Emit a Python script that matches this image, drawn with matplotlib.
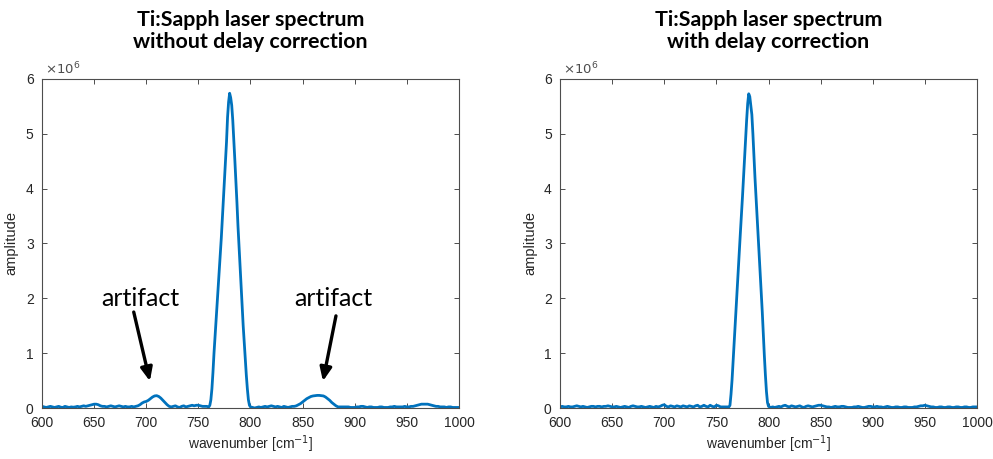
import numpy as np
import matplotlib
matplotlib.use("Agg")
import matplotlib.pyplot as plt
from matplotlib.ticker import FuncFormatter

# ---- data (amplitudes in units of 1e6) ----
SCALE = 1e6

# wavenumber sampling: coarse on the wings, fine across the main line
wn_low = np.arange(600, 761, 2)
wn_peak = np.arange(761, 801, 1)
wn_high = np.arange(802, 1001, 2)

# spectrum without delay correction
amp_raw_low = [
    0.03, 0.02, 0.01, 0.02, 0.03, 0.02, 0.01, 0.02, 0.03, 0.015,
    0.01, 0.03, 0.02, 0.01, 0.02, 0.015, 0.02, 0.03, 0.02, 0.03,
    0.04, 0.03, 0.04, 0.05, 0.06, 0.07, 0.07, 0.06, 0.04, 0.03,
    0.03, 0.02, 0.03, 0.04, 0.03, 0.02, 0.03, 0.04, 0.03, 0.02,
    0.03, 0.02, 0.02, 0.03, 0.02, 0.03, 0.04, 0.06, 0.09, 0.11,
    0.12, 0.14, 0.17, 0.20, 0.22, 0.225, 0.21, 0.18, 0.14, 0.10,
    0.06, 0.03, 0.02, 0.03, 0.04, 0.02, 0.01, 0.03, 0.04, 0.02,
    0.03, 0.04, 0.05, 0.04, 0.05, 0.05, 0.04, 0.03, 0.03, 0.03,
    0.02,
]
amp_raw_peak = [
    0.05, 0.15, 0.35, 0.65, 1.00, 1.30, 1.60, 1.90, 2.20, 2.50,
    2.80, 3.10, 3.45, 3.80, 4.15, 4.50, 4.85, 5.30, 5.58, 5.74,
    5.66, 5.52, 5.25, 4.90, 4.52, 4.15, 3.75, 3.32, 2.95, 2.60,
    2.20, 1.85, 1.50, 1.20, 0.90, 0.60, 0.35, 0.15, 0.05, 0.02,
]
amp_raw_high = [
    0.01, 0.00, 0.01, 0.02, 0.01, 0.02, 0.03, 0.02, 0.03, 0.04,
    0.03, 0.02, 0.03, 0.02, 0.01, 0.03, 0.02, 0.01, 0.02, 0.03,
    0.03, 0.04, 0.06, 0.08, 0.11, 0.14, 0.17, 0.19, 0.21, 0.22,
    0.225, 0.23, 0.23, 0.225, 0.22, 0.20, 0.17, 0.14, 0.10, 0.07,
    0.04, 0.02, 0.02, 0.02, 0.02, 0.02, 0.02, 0.01, 0.01, 0.01,
    0.02, 0.02, 0.03, 0.03, 0.02, 0.01, 0.02, 0.02, 0.01, 0.01,
    0.01, 0.02, 0.02, 0.01, 0.01, 0.01, 0.02, 0.02, 0.03, 0.02,
    0.02, 0.02, 0.02, 0.03, 0.02, 0.02, 0.03, 0.03, 0.04, 0.05,
    0.06, 0.07, 0.07, 0.07, 0.07, 0.06, 0.05, 0.04, 0.03, 0.03,
    0.02, 0.02, 0.02, 0.01, 0.02, 0.02, 0.01, 0.01, 0.01, 0.01,
]

# spectrum with delay correction
amp_cor_low = [
    0.02, 0.03, 0.02, 0.02, 0.03, 0.02, 0.02, 0.03, 0.04, 0.03,
    0.02, 0.03, 0.02, 0.01, 0.02, 0.03, 0.03, 0.02, 0.03, 0.03,
    0.02, 0.03, 0.03, 0.04, 0.03, 0.02, 0.02, 0.03, 0.02, 0.01,
    0.02, 0.03, 0.02, 0.01, 0.03, 0.04, 0.03, 0.02, 0.02, 0.03,
    0.02, 0.01, 0.02, 0.03, 0.02, 0.01, 0.03, 0.02, 0.03, 0.05,
    0.06, 0.03, 0.02, 0.04, 0.03, 0.02, 0.04, 0.03, 0.02, 0.04,
    0.03, 0.02, 0.04, 0.03, 0.02, 0.04, 0.05, 0.02, 0.03, 0.05,
    0.03, 0.02, 0.05, 0.03, 0.02, 0.05, 0.04, 0.02, 0.02, 0.02,
    0.02,
]
amp_cor_peak = [
    0.02, 0.02, 0.05, 0.25, 0.51, 0.85, 1.20, 1.55, 1.90, 2.22,
    2.54, 2.86, 3.20, 3.52, 3.85, 4.20, 4.55, 4.90, 5.25, 5.55,
    5.73, 5.68, 5.52, 5.35, 5.00, 4.60, 4.20, 3.85, 3.50, 3.15,
    2.83, 2.45, 2.10, 1.75, 1.35, 0.95, 0.60, 0.30, 0.10, 0.03,
]
amp_cor_high = [
    0.01, 0.02, 0.01, 0.02, 0.03, 0.02, 0.04, 0.05, 0.03, 0.02,
    0.04, 0.03, 0.02, 0.03, 0.04, 0.02, 0.01, 0.03, 0.04, 0.03,
    0.02, 0.03, 0.04, 0.05, 0.05, 0.04, 0.03, 0.02, 0.02, 0.01,
    0.02, 0.03, 0.02, 0.02, 0.03, 0.03, 0.02, 0.01, 0.01, 0.01,
    0.02, 0.02, 0.03, 0.02, 0.01, 0.01, 0.02, 0.03, 0.03, 0.02,
    0.02, 0.03, 0.02, 0.02, 0.01, 0.02, 0.03, 0.02, 0.01, 0.01,
    0.02, 0.02, 0.01, 0.01, 0.02, 0.02, 0.01, 0.01, 0.01, 0.02,
    0.02, 0.03, 0.04, 0.04, 0.05, 0.04, 0.03, 0.02, 0.02, 0.01,
    0.01, 0.02, 0.02, 0.01, 0.01, 0.02, 0.02, 0.01, 0.01, 0.02,
    0.02, 0.01, 0.01, 0.02, 0.02, 0.01, 0.01, 0.02, 0.02, 0.02,
]

titles = ["Ti:Sapph laser spectrum\nwithout delay correction",
          "Ti:Sapph laser spectrum\nwith delay correction"]
x_ticks = [600, 650, 700, 750, 800, 850, 900, 950, 1000]
y_ticks = [0, 1, 2, 3, 4, 5, 6]

# artifact labels: (text x, text y, arrow tail x, tail y, head x, head y)
artifact_notes = [
    (694, 2.0, 688, 1.75, 703.5, 0.49),
    (879, 2.0, 882, 1.68, 869.5, 0.49),
]

wn = np.concatenate([wn_low, wn_peak, wn_high])
amp_raw = np.concatenate([amp_raw_low, amp_raw_peak, amp_raw_high]) * SCALE
amp_cor = np.concatenate([amp_cor_low, amp_cor_peak, amp_cor_high]) * SCALE

# ---- figure ----
plt.rcParams['font.family'] = ['Liberation Sans', 'DejaVu Sans']
LINE = '#0072BD'
AXC = '#4d4d4d'

fig = plt.figure(figsize=(9.93, 4.59), dpi=100)
ax1 = fig.add_axes([0.0423, 0.1111, 0.4199, 0.7168])
ax2 = fig.add_axes([0.5640, 0.1111, 0.4199, 0.7168])

for ax, y, title in [(ax1, amp_raw, titles[0]), (ax2, amp_cor, titles[1])]:
    ax.plot(wn, y, color=LINE, lw=2.0, solid_joinstyle='round')
    ax.set_xlim(600, 1000)
    ax.set_ylim(0, 6 * SCALE)
    ax.set_xticks(x_ticks)
    ax.set_yticks([v * SCALE for v in y_ticks])
    ax.yaxis.set_major_formatter(FuncFormatter(lambda v, p: f"{v / SCALE:g}"))
    ax.tick_params(direction='in', length=3.5, width=0.7, colors=AXC,
                   labelsize=10, top=True, right=True,
                   labelcolor='#262626')
    ax.tick_params(axis='x', pad=6)
    ax.tick_params(axis='y', pad=6)
    for s in ax.spines.values():
        s.set_color(AXC)
        s.set_linewidth(0.8)
    ax.set_xlabel("wavenumber [cm$^{-1}$]", fontsize=10, color='#262626',
                  labelpad=2)
    ax.set_ylabel("amplitude", fontsize=10.5, color='#262626', labelpad=5)
    ax.set_title(title, fontsize=15.4, fontweight='bold', family='Lato',
                 linespacing=1.15, pad=22)
    ax.text(0.008, 1.005, r"$\times10^{6}$", transform=ax.transAxes,
            fontsize=9.5, color=AXC, va='bottom', ha='left')

for tx, ty, x0, y0, x1, y1 in artifact_notes:
    ax1.text(tx, ty * SCALE, "artifact", fontsize=18, family='Lato',
             ha='center', va='center')
    ax1.annotate("", xy=(x1, y1 * SCALE), xytext=(x0, y0 * SCALE),
                 arrowprops=dict(arrowstyle='-|>,head_length=0.8,head_width=0.35',
                                 color='black', lw=2.4, shrinkA=0, shrinkB=0))

fig.savefig("out.png", dpi=100)
